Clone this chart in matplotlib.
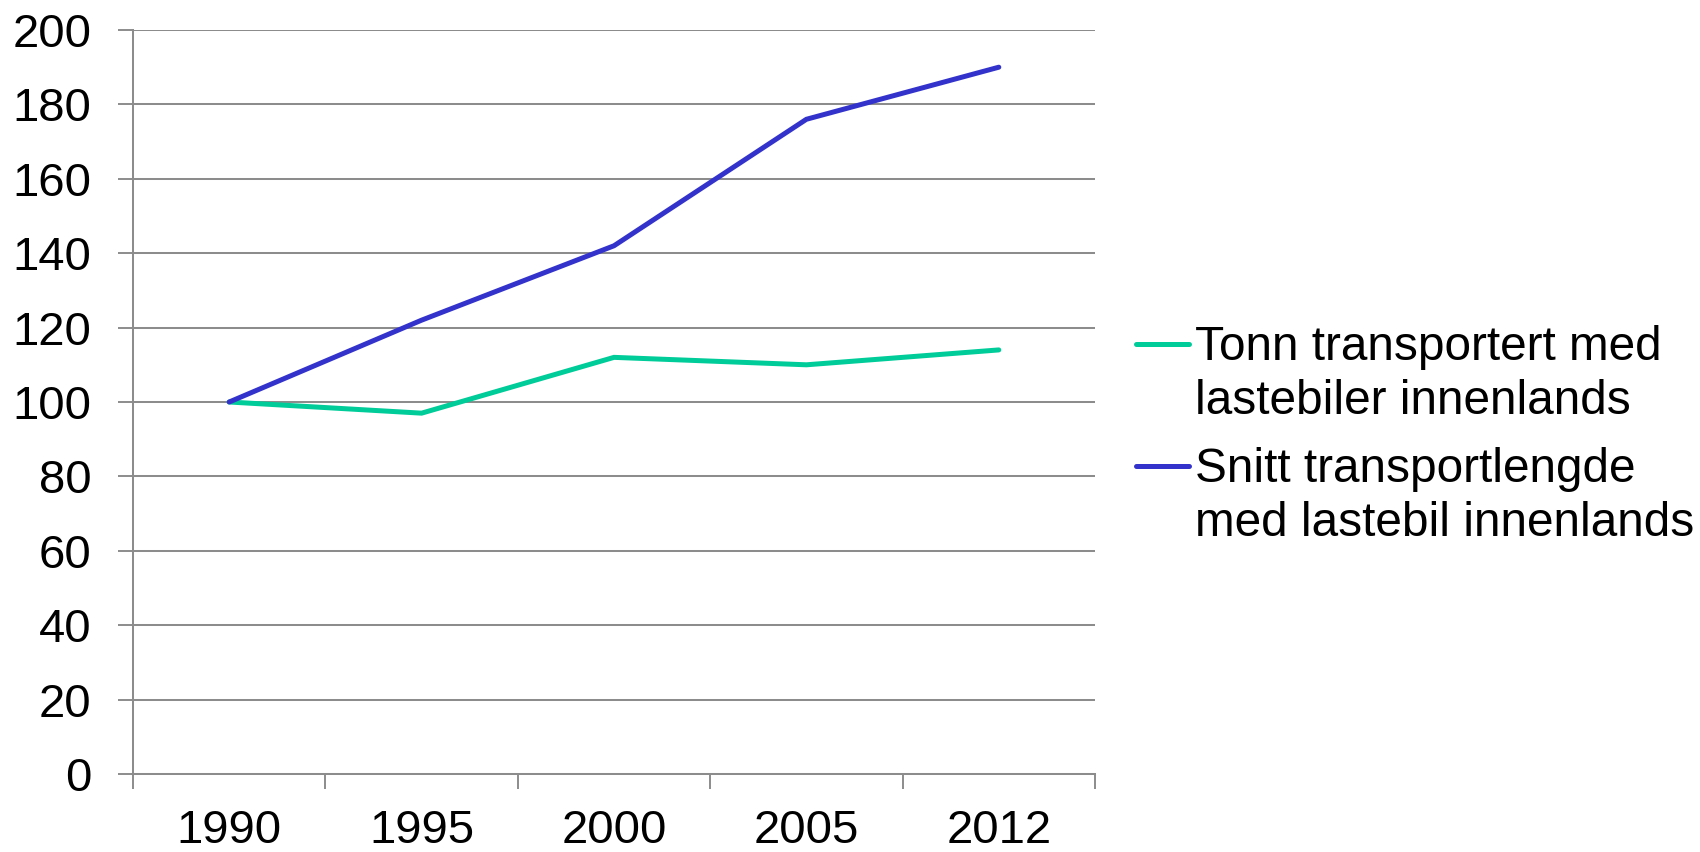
import matplotlib
matplotlib.use("Agg")
import matplotlib.pyplot as plt
from matplotlib.lines import Line2D

plt.rcParams['font.family'] = ['Liberation Sans', 'DejaVu Sans']

years = ["1990", "1995", "2000", "2005", "2012"]
tonn = [100, 97, 112, 110, 114]
snitt = [100, 122, 142, 176, 190]
series_labels = [["Tonn transportert med", "lastebiler innenlands"],
                 ["Snitt transportlengde", "med lastebil innenlands"]]
yticks = [0, 20, 40, 60, 80, 100, 120, 140, 160, 180, 200]

green = "#00CC99"
blue = "#3333CC"
grid_c = "#8C8C8C"
fs_tick = 34
fs_leg = 34.4
lw_data = 3.6

W, H = 1700, 852
fig = plt.figure(figsize=(W / 100, H / 100), dpi=100)
ax = fig.add_axes([133 / W, 78 / H, (1095 - 133) / W, (774 - 30) / H])

x = list(range(1, len(years) + 1))
ax.plot(x, tonn, color=green, lw=lw_data, solid_capstyle="round", solid_joinstyle="miter", zorder=3)
ax.plot(x, snitt, color=blue, lw=lw_data, solid_capstyle="round", solid_joinstyle="miter", zorder=4)

ax.set_xlim(0.5, len(years) + 0.5)
ax.set_ylim(0, 200)
ax.set_yticks(yticks)
ax.set_yticklabels([str(v) for v in yticks], fontsize=fs_tick)
ax.set_xticks([i + 0.5 for i in range(0, len(years) + 1)])
ax.set_xticklabels([])
ax.set_xticks(x, minor=True)
ax.set_xticklabels(years, minor=True, fontsize=fs_tick)
ax.tick_params(axis="x", which="minor", length=0, pad=25.0)
ax.tick_params(axis="x", which="major", length=10.8, width=1.4, color=grid_c, direction="out")
ax.tick_params(axis="y", length=10.8, width=1.4, color=grid_c, pad=19)

ax.grid(axis="y", color=grid_c, lw=1.45, zorder=1)
ax.set_axisbelow(True)
for s in ["top", "right"]:
    ax.spines[s].set_visible(False)
for s in ["left", "bottom"]:
    ax.spines[s].set_color(grid_c)
    ax.spines[s].set_linewidth(1.45)

# legend drawn beside the plot: handle, then two text lines per entry
entries = [(green, series_labels[0], 344, 360), (blue, series_labels[1], 466, 482)]
line_step = 54
for col, lines, y_handle, y_base in entries:
    yf = 1 - y_handle / H
    fig.add_artist(Line2D([1136 / W, 1189 / W], [yf, yf], color=col, lw=lw_data,
                          solid_capstyle="round", transform=fig.transFigure))
    for k, txt in enumerate(lines):
        fig.text(1195 / W, 1 - (y_base + k * line_step) / H, txt, fontsize=fs_leg,
                 va="baseline", ha="left", transform=fig.transFigure)

fig.savefig("out.png", dpi=100)
